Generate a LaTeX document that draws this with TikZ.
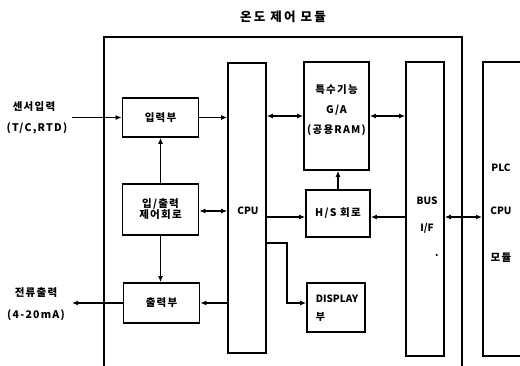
\documentclass[tikz,border=0pt]{standalone}
\usepackage{fontspec}
\setmainfont{Noto Sans CJK KR}[LetterSpace=12]
\usetikzlibrary{arrows.meta,calc}
\begin{document}
\begin{tikzpicture}[x=1pt,y=-1pt,
  box/.style={draw,line width=1.7pt,inner sep=0pt,font=\bfseries\fontsize{10.5}{12}\selectfont},
  lbl/.style={inner sep=0pt,font=\bfseries\fontsize{10.5}{12}\selectfont},
  latin/.style={inner sep=0pt,font=\bfseries\fontsize{10}{12}\selectfont\addfontfeatures{LetterSpace=0}},
  conn/.style={line width=1.6pt},
  arr/.style={conn,-{Latex[length=6pt,width=5pt]}},
  darr/.style={conn,{Latex[length=6pt,width=5pt]}-{Latex[length=6pt,width=5pt]}}]
\useasboundingbox (0,0) rectangle (520,366);
\node[lbl,font=\bfseries\fontsize{12.5}{14}\selectfont\addfontfeatures{LetterSpace=18}] (title) at (283,17) {온도 제어 모듈};
% outer module frame
\coordinate (fbl) at (104,366);
\coordinate (ftl) at (104,37);
\coordinate (ftr) at (462,37);
\coordinate (fbr) at (462,366);
\draw[line width=1.4pt] (fbl) -- (ftl) -- (ftr) -- (fbr);
% boxes
\node[box,minimum width=76pt,minimum height=39pt] (inp) at (160.5,117.5) {입력부};
\node[box,minimum width=76pt,minimum height=51pt,align=center] (ioc) at (160.5,209.5) {입/출력\\[-1pt]제어회로};
\node[box,minimum width=76pt,minimum height=40pt] (out) at (161.5,303) {출력부};
\node[box,minimum width=38pt,minimum height=290pt] (cpu) at (247,208) {};
\node[latin] (cputxt) at (248,211) {CPU};
\node[box,minimum width=65pt,minimum height=108pt] (ga) at (336.5,116) {};
\node[lbl,align=center,font=\bfseries\fontsize{10.5}{20}\selectfont] (gatxt) at (336.5,110) {특수기능\\G/A\\(공용RAM)};
\node[box,minimum width=64pt,minimum height=47pt] (hs) at (338,213.5) {H/S 회로};
\node[box,minimum width=58pt,minimum height=49pt] (disp) at (336,307.5) {};
\node[latin,align=left,font=\bfseries\fontsize{10}{18}\selectfont\addfontfeatures{LetterSpace=0}] (disptxt) at (337,308) {DISPLAY\\부};
\node[box,minimum width=38pt,minimum height=294pt] (bus) at (425,209) {};
\node[latin] (bus1) at (427,201) {BUS};
\node[latin] (bus2) at (427,228) {I/F};
\node[latin] (bus3) at (437,256) {.};
\node[box,minimum width=60pt,minimum height=294pt,anchor=west] (plc) at (482,209) {};
\node[latin] (plc1) at (501,168) {PLC};
\node[latin] (plc2) at (501,211) {CPU};
\node[lbl] (plc3) at (501,258) {모듈};
% external labels
\node[lbl] (sen1) at (34,107) {센서입력};
\node[lbl] (sen2) at (37,128) {(T/C,RTD)};
\node[lbl] (cur1) at (36,293) {전류출력};
\node[lbl] (cur2) at (36,315) {(4-20mA)};
% connectors
\coordinate (sensL) at (72,117.5);
\coordinate (outL) at (72,303);
\draw[arr] (sensL) -- (inp.west);
\draw[arr] (out.west) -- (outL);
\draw[arr] (inp.east) -- (inp.east -| cpu.west);
\draw[arr] (ioc.north -| inp.south) -- (inp.south);
\draw[arr] (ioc.south) -- (out.north -| ioc.south);
\draw[darr] ([yshift=-1.5pt]ioc.east) -- ([yshift=-1.5pt]ioc.east -| cpu.west);
\draw[arr] (cpu.west |- out.east) -- (out.east);
\draw[darr] (cpu.east |- ga.west) -- (ga.west);
\draw[darr] (ga.east) -- (ga.east -| bus.west);
\draw[arr] (hs.north) -- (hs.north |- ga.south);
\draw[arr] ([yshift=-3.5pt]hs.west -| cpu.east) -- ([yshift=-3.5pt]hs.west);
\draw[arr] ([yshift=-3.5pt]hs.east -| bus.west) -- ([yshift=-3.5pt]hs.east);
\draw[darr] ([yshift=-3.5pt]hs.east -| bus.east) -- ([yshift=-3.5pt]hs.east -| plc.west);
\coordinate (dk) at (287,243);
\draw[arr] (dk -| cpu.east) -- (dk) |- ([yshift=4.5pt]disp.west);
\end{tikzpicture}
\end{document}
